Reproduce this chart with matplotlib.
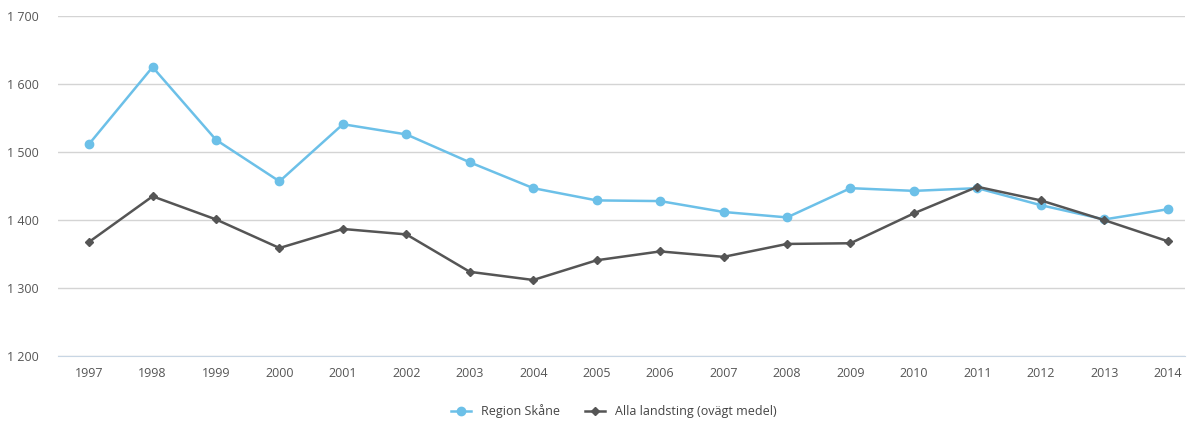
import matplotlib
matplotlib.use("Agg")
import matplotlib.pyplot as plt
from matplotlib.ticker import FuncFormatter

plt.rcParams['font.family'] = ['Open Sans', 'DejaVu Sans']

years = [str(y) for y in range(1997, 2015)]
skane = [1512, 1625, 1518, 1457, 1541, 1526, 1485, 1447, 1429, 1428,
         1412, 1404, 1447, 1443, 1447, 1422, 1401, 1416]
alla = [1368, 1435, 1401, 1359, 1387, 1379, 1324, 1312, 1341, 1354,
        1346, 1365, 1366, 1410, 1449, 1429, 1400, 1369]

blue = '#6cc0e8'
dark = '#555555'

fig = plt.figure(figsize=(11.92, 4.23), dpi=100)
ax = fig.add_axes([0.0487, 0.158, 0.9453, 0.804])

x = range(len(years))
ax.plot(x, skane, color=blue, lw=1.8, marker='o', ms=6, label='Region Skåne', zorder=3)
ax.plot(x, alla, color=dark, lw=1.8, marker='D', ms=4.5, label='Alla landsting (ovägt medel)', zorder=4)

# categories are spaced a bit wider than the gridline span
ax.set_xlim(-0.49, len(years) - 0.73)
ax.set_ylim(1200, 1700)
ax.set_yticks(range(1200, 1701, 100))
ax.yaxis.set_major_formatter(FuncFormatter(lambda v, p: f"{int(v):,}".replace(",", " ")))
ax.set_xticks(list(x))
ax.set_xticklabels(years)

ax.grid(axis='y', color='#d4d4d4', lw=1)
ax.set_axisbelow(True)
for s in ['top', 'right', 'left']:
    ax.spines[s].set_visible(False)
ax.spines['bottom'].set_color('#c8d6e4')
ax.tick_params(axis='both', length=0, labelsize=9, colors='#555555')
ax.tick_params(axis='x', pad=8)
ax.tick_params(axis='y', pad=14)

fig.legend(loc='lower center', bbox_to_anchor=(0.515, -0.015), ncol=2, frameon=False,
           fontsize=9, labelcolor='#444444', handlelength=1.6, columnspacing=2.0)

fig.savefig('out.png', dpi=100)
